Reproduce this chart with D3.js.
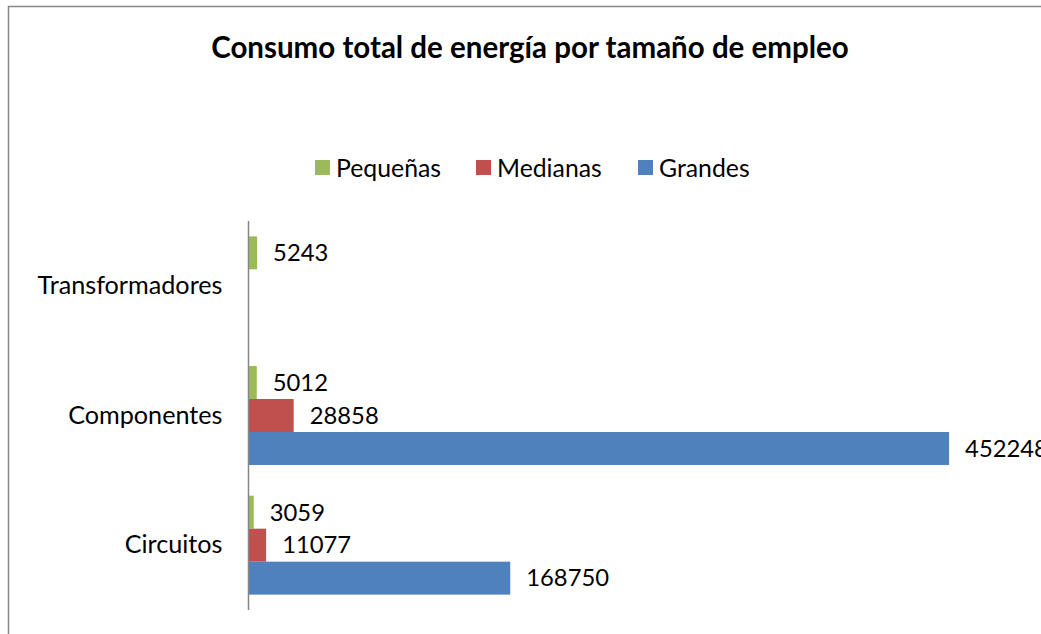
<!DOCTYPE html>
<html><head><meta charset="utf-8">
<script src="https://cdn.jsdelivr.net/npm/d3@7"></script>
<style>html,body{margin:0;padding:0;background:#fff;overflow:hidden}</style>
</head><body>
<svg id="c" width="1041" height="634"></svg>
<script>
const title = "Consumo total de energía por tamaño de empleo";
const categories = ["Transformadores", "Componentes", "Circuitos"];
const seriesNames = ["Pequeñas", "Medianas", "Grandes"];
const seriesColors = ["#9BBB59", "#C0504D", "#4F81BD"];
const pequenas = [5243, 5012, 3059];
const medianas = [null, 28858, 11077];
const grandes = [null, 452248, 168750];
const axisMax = 500000;

const seriesValues = [pequenas, medianas, grandes];
const svg = d3.select("#c");
const font = "Lato, 'Open Sans', sans-serif";

svg.append("rect").attr("x", 8.5).attr("y", 6.5).attr("width", 1040).attr("height", 640)
  .attr("fill", "#fff").attr("stroke", "#878787").attr("stroke-width", 1.5);

svg.append("text").attr("x", 530).attr("y", 58).attr("text-anchor", "middle")
  .attr("font-family", font).attr("font-weight", "bold").attr("font-size", 29.5)
  .attr("fill", "#000").text(title);

const x = d3.scaleLinear().domain([0, axisMax]).range([249, 1023]);
const y = d3.scaleBand().domain(categories).range([221, 610]).paddingInner(0.237).paddingOuter(0.1185);
const ySub = d3.scaleBand().domain(seriesNames).range([0, y.bandwidth()]);

// legend
const legendX = [315, 476, 638];
const lg = svg.append("g");
seriesNames.forEach((s, i) => {
  lg.append("rect").attr("x", legendX[i]).attr("y", 160).attr("width", 15).attr("height", 15).attr("fill", seriesColors[i]);
  lg.append("text").attr("x", legendX[i] + 21).attr("y", 168).attr("dy", "0.35em")
    .attr("font-family", font).attr("font-size", 24.8).attr("fill", "#000").text(s);
});

// bars
seriesValues.forEach((vals, si) => {
  const g = svg.append("g");
  categories.forEach((c, ci) => {
    const v = vals[ci];
    if (v == null) return;
    const yy = y(c) + ySub(seriesNames[si]);
    g.append("rect").attr("x", x(0)).attr("y", yy).attr("width", x(v) - x(0)).attr("height", ySub.bandwidth())
      .attr("fill", seriesColors[si]);
    g.append("text").attr("x", x(v) + 16).attr("y", yy + ySub.bandwidth() / 2).attr("dy", "0.35em")
      .attr("font-family", font).attr("font-size", 23.8).attr("fill", "#000").text(v);
  });
});

// axis
const ax = svg.append("g").attr("transform", `translate(${x(0) - 0.5},0)`)
  .call(d3.axisLeft(y).tickSize(0).tickPadding(26));
ax.select(".domain").attr("stroke", "#868686").attr("stroke-width", 1.5);
ax.selectAll(".domain").attr("d", "M0,221V610");
ax.selectAll("text").attr("font-family", font).attr("font-size", 25.2).attr("fill", "#000");
</script>
</body></html>
